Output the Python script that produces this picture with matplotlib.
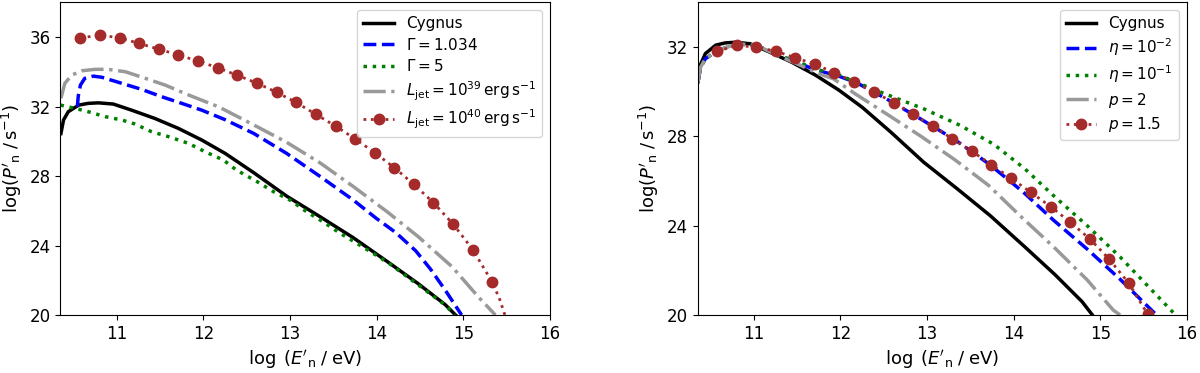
import matplotlib.pyplot as plt

# Cygnus reference curve (same in both panels)
cyg_x = [10.355, 10.385, 10.44, 10.56, 10.67, 10.79, 10.96, 11.17, 11.44, 11.71, 11.98,
         12.25, 12.58, 12.96, 13.35, 13.73, 14.13, 14.48, 14.79, 14.91]
cyg_y = [30.45, 31.23, 31.71, 32.09, 32.19, 32.22, 32.15, 31.80, 31.32, 30.75, 30.08,
         29.31, 28.20, 26.85, 25.65, 24.45, 23.05, 21.80, 20.60, 20.0]

# left panel: Lorentz factor and jet power
g1_x = [10.545, 10.555, 10.58, 10.63, 10.73, 10.83, 11.06, 11.29, 11.52, 11.75, 11.98,
        12.25, 12.58, 12.96, 13.35, 13.73, 14.0, 14.22, 14.45, 14.62, 14.79, 14.98]
g1_y = [32.0, 32.6, 33.24, 33.63, 33.76, 33.69, 33.34, 32.99, 32.57, 32.19, 31.80,
        31.25, 30.46, 29.31, 27.97, 26.62, 25.55, 24.75, 23.7, 22.65, 21.44, 20.0]

g5_x = [10.35, 10.52, 10.67, 10.87, 11.06, 11.21, 11.40, 11.60, 11.83, 12.02, 12.23,
        12.38, 12.62, 12.81, 13.0, 13.19, 13.38, 13.58, 13.77, 13.96, 14.15, 14.48,
        14.79, 14.90]
g5_y = [32.09, 31.90, 31.71, 31.42, 31.23, 31.0, 30.56, 30.27, 29.88, 29.40, 28.93,
        28.35, 27.68, 27.10, 26.62, 25.95, 25.37, 24.70, 24.13, 23.55, 22.95, 21.73,
        20.58, 20.0]

l39_x = [10.355, 10.40, 10.48, 10.60, 10.75, 10.90, 11.10, 11.33, 11.56, 11.83, 12.18,
         12.58, 12.96, 13.35, 13.73, 14.12, 14.48, 14.87, 15.17, 15.37]
l39_y = [32.48, 33.34, 33.82, 34.07, 34.15, 34.15, 34.01, 33.63, 33.24, 32.67, 31.98,
         30.95, 29.95, 28.75, 27.40, 25.95, 24.51, 22.78, 21.06, 20.0]

l40_x = [10.58, 10.81, 11.035, 11.26, 11.485, 11.71, 11.94, 12.165, 12.39, 12.62, 12.845,
         13.07, 13.295, 13.525, 13.75, 13.98, 14.205, 14.43, 14.655, 14.885, 15.11,
         15.335, 15.42, 15.48]
l40_y = [35.96, 36.12, 35.96, 35.64, 35.31, 34.98, 34.62, 34.24, 33.81, 33.35, 32.83,
         32.24, 31.57, 30.88, 30.15, 29.34, 28.48, 27.52, 26.47, 25.22, 23.76,
         21.88, 20.9, 20.0]

# right panel: acceleration efficiency and spectral index
e2_x = [10.355, 10.385, 10.44, 10.58, 10.81, 11.04, 11.29, 11.73, 11.96, 12.19, 12.56,
        12.94, 13.33, 13.71, 13.97, 14.13, 14.46, 14.85, 15.23, 15.65]
e2_y = [30.45, 31.1, 31.48, 31.85, 32.15, 32.07, 31.63, 30.96, 30.73, 30.40, 29.62,
        28.75, 27.83, 26.78, 25.96, 25.44, 24.25, 22.95, 21.60, 20.0]

e1_x = [10.355, 10.385, 10.44, 10.58, 10.81, 11.04, 11.29, 11.77, 12.0, 12.17, 12.54,
        12.96, 13.38, 13.77, 14.13, 14.46, 14.85, 15.23, 15.55, 15.87]
e1_y = [30.45, 31.1, 31.48, 31.85, 32.15, 32.07, 31.63, 30.96, 30.73, 30.44, 29.87,
        29.24, 28.50, 27.65, 26.55, 25.35, 24.0, 22.6, 21.3, 20.0]

p2_x = [10.355, 10.385, 10.44, 10.58, 10.81, 11.04, 11.29, 11.50, 11.75, 11.92, 12.17,
        12.56, 12.94, 13.33, 13.71, 14.10, 14.46, 14.85, 15.15, 15.23]
p2_y = [30.45, 31.1, 31.48, 31.85, 32.15, 32.07, 31.60, 31.25, 30.81, 30.58, 29.91,
        28.94, 27.98, 26.93, 25.81, 24.35, 23.06, 21.57, 20.22, 20.0]

p15_x = [10.577, 10.808, 11.03, 11.26, 11.48, 11.71, 11.93, 12.16, 12.385, 12.62, 12.84,
         13.07, 13.29, 13.52, 13.74, 13.97, 14.20, 14.43, 14.65, 14.88, 15.10, 15.33, 15.55]
p15_y = [31.82, 32.08, 32.0, 31.81, 31.52, 31.23, 30.85, 30.44, 29.99, 29.51, 28.99,
         28.45, 27.90, 27.33, 26.74, 26.13, 25.49, 24.85, 24.17, 23.41, 22.52, 21.42, 20.03]

gray = '#999999'
red = '#a52a2a'

fig = plt.figure(figsize=(12, 3.73), dpi=100)
ax1 = fig.add_axes([0.0504, 0.1555, 0.4079, 0.8378])
ax2 = fig.add_axes([0.5813, 0.1555, 0.4077, 0.8378])

ax1.plot(cyg_x, cyg_y, color='black', lw=2.5, label='Cygnus')
ax1.plot(g1_x, g1_y, color='blue', ls='--', lw=2.5, label=r'$\Gamma = 1.034$')
ax1.plot(g5_x, g5_y, color='green', ls=':', lw=2.5, label=r'$\Gamma = 5$')
ax1.plot(l39_x, l39_y, color=gray, ls='-.', lw=2.5,
         label=r'$L_{\rm jet} = 10^{39}\,{\rm erg\,s^{-1}}$')
ax1.plot(l40_x, l40_y, color=red, ls=':', lw=2, marker='o', ms=7.5,
         markevery=slice(0, 22), label=r'$L_{\rm jet} = 10^{40}\,{\rm erg\,s^{-1}}$')
ax1.set_ylim(20, 38)
ax1.set_yticks([20, 24, 28, 32, 36])

ax2.plot(cyg_x, cyg_y, color='black', lw=2.5, label='Cygnus')
ax2.plot(e2_x, e2_y, color='blue', ls='--', lw=2.5, label=r'$\eta = 10^{-2}$')
ax2.plot(e1_x, e1_y, color='green', ls=':', lw=2.5, label=r'$\eta = 10^{-1}$')
ax2.plot(p2_x, p2_y, color=gray, ls='-.', lw=2.5, label=r'$p = 2$')
ax2.plot(p15_x, p15_y, color=red, ls=':', lw=2, marker='o', ms=7.5, label=r'$p = 1.5$')
ax2.set_ylim(20, 34)
ax2.set_yticks([20, 24, 28, 32])

for ax in (ax1, ax2):
    ax.set_xlim(10.35, 16)
    ax.set_xticks([11, 12, 13, 14, 15, 16])
    ax.tick_params(labelsize=12)
    ax.set_xlabel(r"$\log\;(E'_{\rm n}\;/\;{\rm eV})$", fontsize=13)
    ax.set_ylabel(r"$\log(P'_{\rm n}\;/\,{\rm s^{-1}})$", fontsize=13)
    ax.legend(loc='upper right', fontsize=11, labelspacing=0.35)

fig.savefig('out.png', dpi=100)
